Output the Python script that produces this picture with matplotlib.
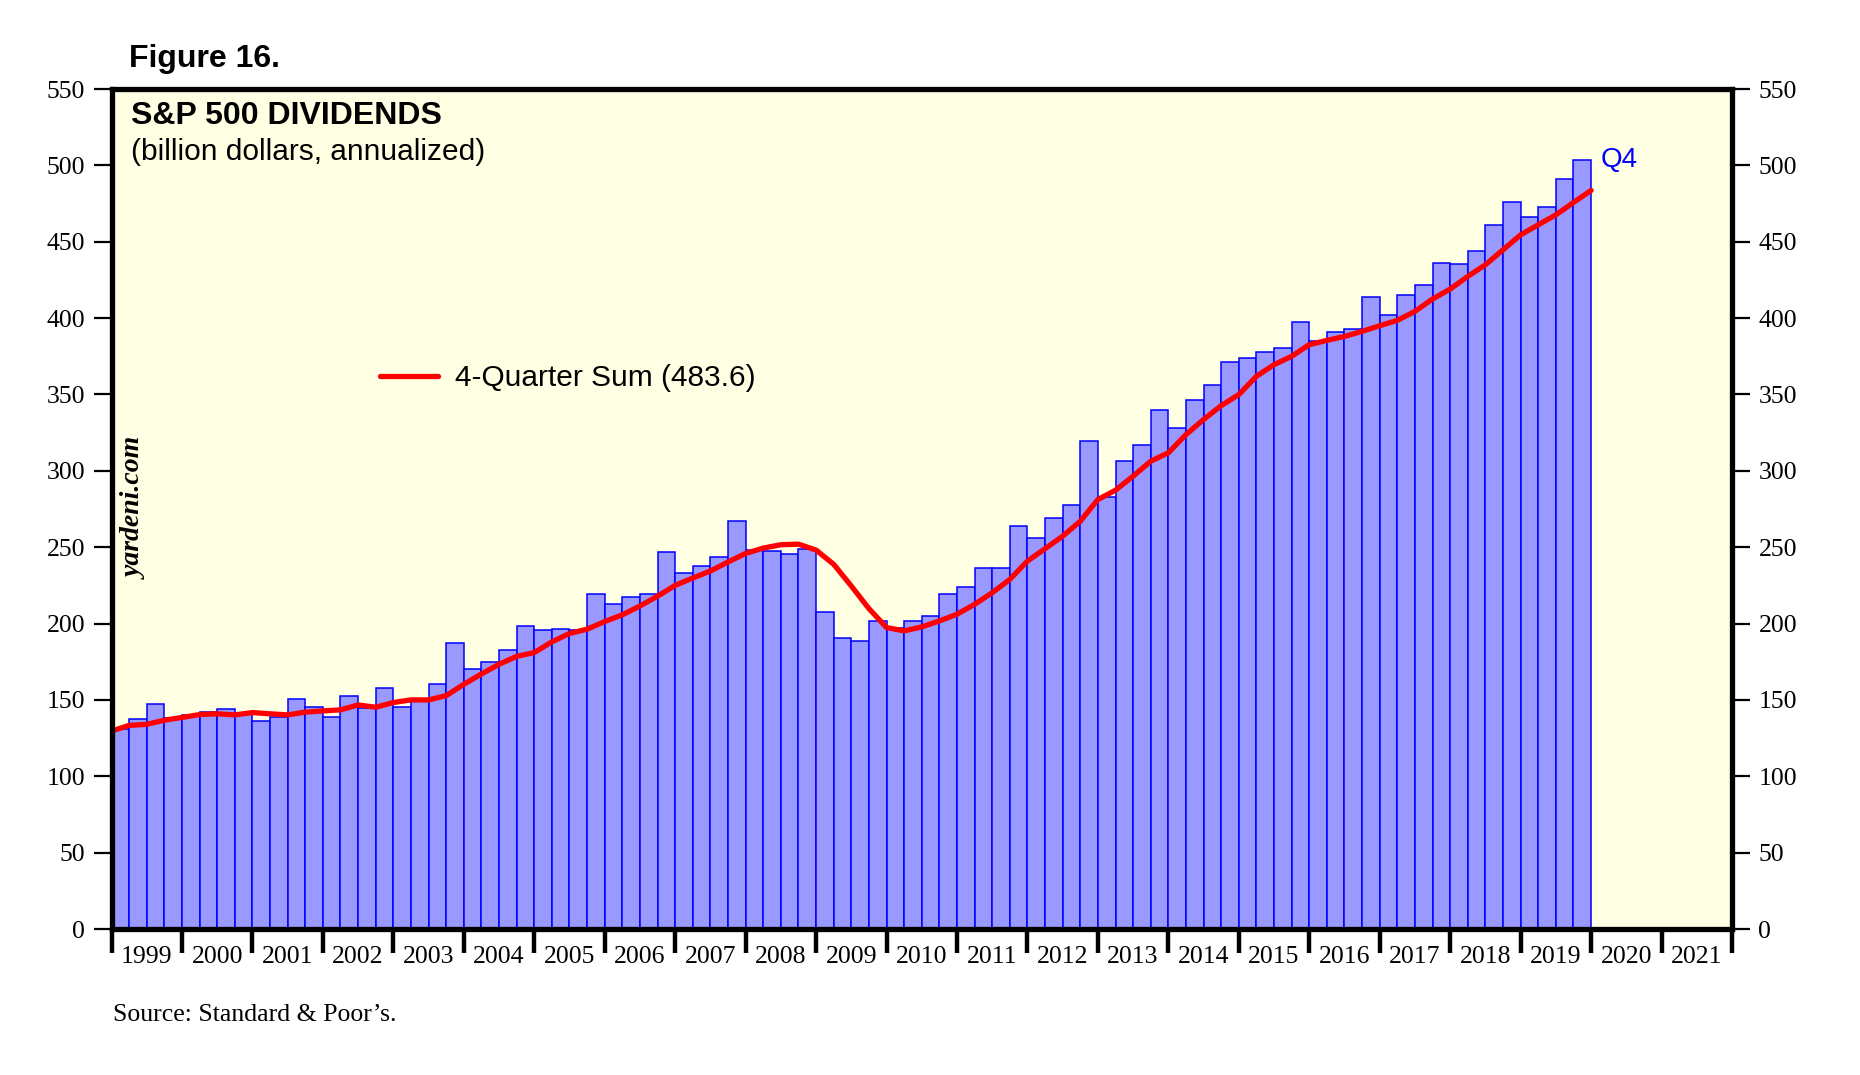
import numpy as np
import matplotlib
matplotlib.use("Agg")
import matplotlib.pyplot as plt
from matplotlib.ticker import FixedLocator, NullFormatter

# quarterly S&P 500 dividends, annualized (billion $), 1999Q1 .. 2019Q4
dividends = [
    131.0, 137.4, 147.2, 138.0,   # 1999
    140.0, 142.0, 144.0, 141.0,   # 2000
    136.0, 138.7, 150.4, 145.2,   # 2001
    138.7, 152.4, 144.6, 157.6,   # 2002
    145.2, 150.0, 160.2, 187.0,   # 2003
    170.0, 174.6, 182.4, 198.7,   # 2004
    196.0, 196.7, 195.6, 219.6,   # 2005
    213.0, 217.6, 219.6, 247.0,   # 2006
    233.3, 237.8, 243.7, 267.3,   # 2007
    248.0, 247.8, 245.8, 249.0,   # 2008
    207.8, 190.8, 188.8, 201.9,   # 2009
    197.0, 201.9, 205.2, 219.5,   # 2010
    224.1, 236.5, 236.5, 263.9,   # 2011
    256.0, 269.1, 277.7, 319.6,   # 2012
    283.0, 306.5, 317.0, 339.9,   # 2013
    328.1, 346.4, 356.2, 371.3,   # 2014
    373.9, 377.8, 380.4, 397.4,   # 2015
    385.0, 390.9, 392.8, 413.8,   # 2016
    402.2, 415.1, 421.6, 436.0,   # 2017
    435.4, 443.9, 460.9, 475.9,   # 2018
    466.1, 472.6, 491.0, 503.4,   # 2019
]

# 4-quarter sum, read at each quarter end (1999.0 .. 2020.0)
four_qtr_sum = [
    129.6,
    133.3, 134.0, 136.7, 138.5,
    140.4, 140.9, 140.2, 141.7,
    140.9, 140.2, 142.0, 142.8,
    143.5, 146.7, 145.2, 148.3,
    150.0, 150.0, 152.8, 160.2,
    167.0, 173.3, 178.5, 181.0,
    188.0, 193.5, 196.3, 201.3,
    205.7, 211.5, 217.9, 225.0,
    229.8, 234.4, 240.3, 245.9,
    249.4, 251.6, 252.0, 248.1,
    238.8, 224.6, 209.8, 197.4,
    195.2, 197.8, 201.7, 206.1,
    212.6, 220.2, 228.9, 240.9,
    249.0, 257.2, 267.0, 281.2,
    287.3, 296.5, 306.3, 311.8,
    323.7, 333.6, 342.7, 349.9,
    361.9, 369.5, 375.0, 382.6,
    385.4, 388.0, 391.3, 395.0,
    398.5, 404.4, 412.5, 419.0,
    427.3, 434.9, 444.7, 454.5,
    461.1, 467.6, 475.7, 483.6,
]

years = list(range(1999, 2022))
y_ticks = list(range(0, 551, 50))

start_year = 1999
bar_x = start_year + np.arange(len(dividends)) * 0.25
line_x = start_year + np.arange(len(four_qtr_sum)) * 0.25

sans = "Liberation Sans"
serif = "Liberation Serif"

fig = plt.figure(figsize=(18.6, 10.75), dpi=100)
ax = fig.add_axes([111.5 / 1860, 1 - 929 / 1075, (1732 - 111.5) / 1860, (929 - 89) / 1075])
ax.set_facecolor("#FFFFE3")

ax.bar(bar_x, dividends, width=0.25, align="edge", color="#9999FF",
       edgecolor="#0000FF", linewidth=1.1, zorder=2)
ax.plot(line_x, four_qtr_sum, color="#FF0000", linewidth=3.8,
        solid_capstyle="round", solid_joinstyle="round", zorder=3,
        label="4-Quarter Sum (%.1f)" % four_qtr_sum[-1])

ax.set_xlim(1999, 2022)
ax.set_ylim(0, 550)

# year boundary ticks (no labels), labels centred mid-year
ax.xaxis.set_major_locator(FixedLocator(years + [2022]))
ax.xaxis.set_major_formatter(NullFormatter())
ax.xaxis.set_minor_locator(FixedLocator([y + 0.5 for y in years]))
ax.set_xticklabels([str(y) for y in years], minor=True)
ax.tick_params(axis="x", which="major", direction="out", length=17, width=3.2, color="black")
ax.tick_params(axis="x", which="minor", length=0, pad=12, labelsize=18.5)

ax.set_yticks(y_ticks)
ax.tick_params(axis="y", which="major", direction="out", length=13, width=1.6,
               left=True, right=True, labelleft=True, labelright=True, pad=6, labelsize=18.5)

for lab in ax.get_xticklabels(minor=True) + ax.get_yticklabels():
    lab.set_fontfamily(serif)

for s in ax.spines.values():
    s.set_linewidth(3.8)
    s.set_color("black")
    s.set_zorder(5)

# titles and annotations
fig.text(129 / 1860, 1 - 59.5 / 1075, "Figure 16.", family=sans, weight="bold",
         fontsize=23, va="center", ha="left")
fig.text(131 / 1860, 1 - 116.5 / 1075, "S&P 500 DIVIDENDS", family=sans, weight="bold",
         fontsize=23, va="center", ha="left")
fig.text(131 / 1860, 1 - 151.5 / 1075, "(billion dollars, annualized)", family=sans,
         fontsize=21.5, va="center", ha="left")
fig.text(135 / 1860, 1 - 508 / 1075, "yardeni.com", family=serif, style="italic",
         weight="bold", fontsize=20, rotation=90, va="center", ha="center")
fig.text(113 / 1860, 1 - 1015 / 1075, "Source: Standard & Poor\u2019s.", family=serif,
         fontsize=18.5, va="center", ha="left")

ax.annotate("Q4", xy=(line_x[-1], dividends[-1]), xytext=(7, 0),
            textcoords="offset points", color="#0000FF", family=sans,
            fontsize=20, va="center", ha="left")

leg = ax.legend(loc="center left", bbox_to_anchor=(380 / 1860, 1 - 378 / 1075),
                bbox_transform=fig.transFigure, frameon=False, borderpad=0,
                borderaxespad=0, handlelength=1.95, handletextpad=0.55,
                prop={"family": sans, "size": 21.5})

fig.savefig("out.png", dpi=100, facecolor="white")
